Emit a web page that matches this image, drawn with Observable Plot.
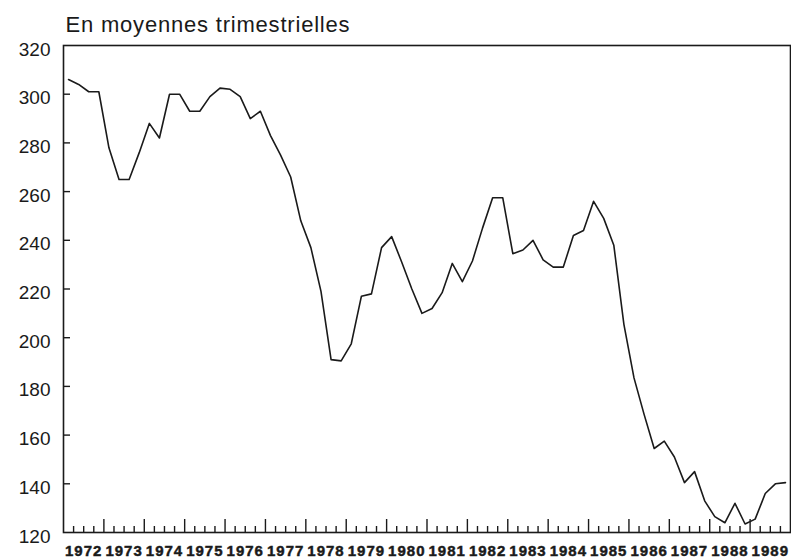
<!DOCTYPE html>
<html><head><meta charset="utf-8">
<script src="https://cdn.jsdelivr.net/npm/d3@7"></script>
<script src="https://cdn.jsdelivr.net/npm/@observablehq/plot@0.6"></script>
<style>body{margin:0;background:#fff}
.yr text{letter-spacing:1px;stroke:#1a1a1a;stroke-width:0.45px}
.ttl text{letter-spacing:0.8px}
</style>
</head><body><div id="chart"></div>
<script>
const title = "En moyennes trimestrielles";
const years = [1972,1973,1974,1975,1976,1977,1978,1979,1980,1981,1982,1983,1984,1985,1986,1987,1988,1989];
const quarters = [1,2,3,4];
const values = [
  306,304,301,301,
  278,265,265,276,
  288,282,300,300,
  293,293,299,302.5,
  302,299,290,293,
  283,275,266,248,
  237,219,191,190.5,
  197.5,217,218,237,
  241.5,231,220,210,
  212,218.5,230.5,223,
  231.5,245,257.5,257.5,
  234.5,236,240,232,
  229,229,242,244,
  256,249,238,205.5,
  183.5,168.5,154.5,157.5,
  151,140.5,145,133,
  126.5,124,132,123.5,
  125.5,136,140,140.5
];
const yTickLabels = [120,140,160,180,200,220,240,260,280,300,320];
const yTickMarks = [140,160,180,200,220,240,260,280,300];

const data = years.flatMap((y, yi) => quarters.map((q, qi) => ({year: y, quarter: q, t: y + (q - 0.5) / 4, v: values[yi * 4 + qi]})));
const yearBounds = years.slice(1);
const quarterBounds = years.flatMap(y => [1,2,3].map(q => y + q / 4));
const yearCenters = years.map(y => y + 0.5);

const W = 791, H = 559, mL = 63, mR = 1, mT = 45, mB = 27;
const plotH = H - mT - mB, plotW = W - mL - mR;
const ink = "#1a1a1a";

const chart = Plot.plot({
  width: W, height: H,
  marginLeft: mL, marginRight: mR, marginTop: mT, marginBottom: mB,
  style: {fontFamily: "'Liberation Sans', Arial, sans-serif", color: ink, background: "#fff", overflow: "visible"},
  x: {domain: [years[0], years[years.length - 1] + 1]},
  y: {domain: [120, 320]},
  marks: [
    Plot.frame({stroke: ink, strokeWidth: 1.6}),
    Plot.ruleX(quarterBounds, {insetTop: plotH - 6, stroke: ink, strokeWidth: 1.4}),
    Plot.ruleX(yearBounds, {insetTop: plotH - 13, stroke: ink, strokeWidth: 1.4}),
    Plot.ruleY(yTickMarks, {insetRight: plotW - 7, stroke: ink, strokeWidth: 1.4}),
    Plot.axisY({ticks: yTickLabels, tickSize: 0, tickPadding: 13, fontSize: 19, dy: 4, label: null}),
    Plot.axisX({ticks: yearCenters, tickSize: 0, tickPadding: 13, fontSize: 15, fontWeight: "bold", label: null,
      className: "yr", tickFormat: d => String(Math.floor(d))}),
    Plot.line(data, {x: "t", y: "v", stroke: ink, strokeWidth: 1.6}),
    Plot.text([title], {frameAnchor: "top-left", text: d => d, dx: 2, dy: -14, fontSize: 22, textAnchor: "start", lineAnchor: "bottom", fill: ink, className: "ttl"})
  ]
});
document.getElementById("chart").appendChild(chart);
</script>
</body></html>
